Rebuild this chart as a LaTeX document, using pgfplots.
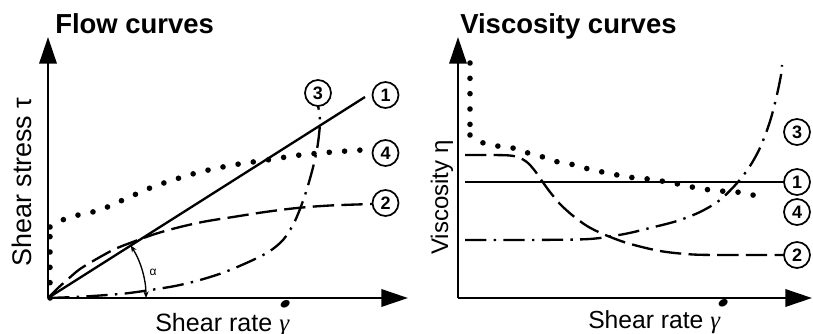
\documentclass[border=0pt]{standalone}
\usepackage{fontspec}
\setmainfont{Liberation Sans}
\newfontfamily\gfont{Liberation Serif}
\usepackage{pgfplots}
\pgfplotsset{compat=1.18}
\usetikzlibrary{arrows.meta}

% one data unit = 0.75pt in both panels, so the two axes share one frame
\pgfplotsset{
  panel/.style={
    x=0.75pt, y=0.75pt, axis lines=left, xtick=\empty, ytick=\empty,
    axis line style={line width=1.8pt, -{Triangle[length=20pt,width=13pt]}},
    clip=false, ymin=35, ymax=296, anchor=south west,
  },
}
\tikzset{
  newton/.style={black, line width=1.75pt},
  shearthin/.style={black, line width=1.75pt, dash pattern=on 16pt off 5.5pt},
  dilatant/.style={black, line width=1.75pt, dash pattern=on 16pt off 5.5pt on 1.8pt off 5.5pt},
  plastic/.style={black, line width=4.2pt, line cap=round, dash pattern=on 0pt off 11.5pt},
  num/.style={draw, circle, line width=1.3pt, minimum size=19.5pt, inner sep=0pt,
    fill=white, font=\bfseries\fontsize{13.5}{14}\selectfont},
  ttl/.style={anchor=base west, inner sep=0pt, font=\bfseries\fontsize{20.6}{24}\selectfont},
  lbl/.style={anchor=base west, inner sep=0pt},
}

\begin{document}
\begin{tikzpicture}
\useasboundingbox (0,0) rectangle (609.75pt,249.75pt);

% ---------------- flow curves ----------------
\begin{axis}[panel, at={(36pt,26.25pt)}, xmin=48, xmax=408]
  % 1: Newtonian
  \addplot[newton] coordinates {(48,35) (365,236)};
  % 2: shear thinning
  \addplot[shearthin, smooth] coordinates {
    (48,35) (58,45) (67,53) (80,64) (100,76) (115,84) (130,90) (155,99)
    (180,106) (205,111.5) (233,116) (265,121) (297,125) (330,127.5) (372,129)};
  % 3: shear thickening
  \addplot[dilatant, smooth] coordinates {
    (48,35) (75,36) (100,37.5) (125,39.5) (147,42.5) (175,47) (200,53)
    (225,61) (253,73) (270,82) (283,93) (293,108) (300,124) (306,141)
    (311,158) (315,174) (318,190) (320,210) (319,222) (318,227)};
  % 4: yield stress
  \addplot[plastic] coordinates {(50,35) (50,106)};
  \addplot[plastic, smooth] coordinates {
    (50,106) (56,110) (70,116) (83,119) (100,123) (123,133) (150,145)
    (173,153) (200,161) (233,168) (267,173) (300,178) (333,181) (362,183)};

  \draw[line width=1pt, {Stealth[length=5pt,width=4pt]}-{Stealth[length=5pt,width=4pt]}]
    (axis cs:146,35) arc[start angle=0, end angle=32.4, radius=73.5pt];
  \node[inner sep=0pt, font=\fontsize{9}{10}\selectfont] at (axis cs:153,61) {α};

  \node[num] at (axis cs:385.5,238) {1};
  \node[num] at (axis cs:385.5,130) {2};
  \node[num] at (axis cs:318,240) {3};
  \node[num] at (axis cs:385.5,180) {4};

  \node[ttl] at (axis cs:55,300) {Flow curves};
  \node[lbl, rotate=90, font=\fontsize{20.2}{22}\selectfont] at (axis cs:32,66) {Shear stress τ};
  \node[lbl, font=\fontsize{18.8}{22}\selectfont] at (axis cs:155,2) {Shear rate {\gfont\itshape γ}};
  \node[inner sep=0pt, rotate=30, xscale=1.4, font=\fontsize{18.8}{22}\selectfont] at (axis cs:287,27) {\textbullet};
\end{axis}

% ---------------- viscosity curves ----------------
\begin{axis}[panel, at={(343.5pt,26.25pt)}, xmin=458, xmax=812]
  \addplot[newton] coordinates {(465,151) (784,151)};
  \addplot[shearthin, smooth] coordinates {
    (465,178) (490,178) (510,177.5) (520,175) (528,170) (535,162) (542,152)
    (550,141) (560,129) (572,118) (587,107) (603,99) (627,90) (660,82)
    (693,78.5) (730,78) (784,78)};
  \addplot[dilatant, smooth] coordinates {
    (465,93) (520,93) (577,93.5) (600,95) (627,99.5) (650,105) (677,112)
    (700,121) (720,133) (738,151) (750,167) (759,183) (766,200) (771,215)
    (775,230) (778,243) (781,258) (782,268)};
  \addplot[plastic] coordinates {(470,270) (470,198)};
  \addplot[plastic, smooth] coordinates {
    (470,198) (476,193) (490,188) (507,186) (517,184) (528,180) (543,176)
    (558,171) (575,168) (592,163) (608,160) (627,156) (640,155) (655,153)
    (673,150) (687,147) (703,144) (720,142) (737,141) (752,138) (767,138)};

  \node[num] at (axis cs:797,151) {1};
  \node[num] at (axis cs:797,78) {2};
  \node[num] at (axis cs:797,201) {3};
  \node[num] at (axis cs:797,121) {4};

  \node[ttl] at (axis cs:460,300) {Viscosity curves};
  \node[lbl, rotate=90, font=\fontsize{18}{22}\selectfont] at (axis cs:448,78) {Viscosity η};
  \node[lbl, font=\fontsize{18.5}{22}\selectfont] at (axis cs:588,5) {Shear rate {\gfont\itshape γ}};
  \node[inner sep=0pt, rotate=30, xscale=1.4, font=\fontsize{18.8}{22}\selectfont] at (axis cs:725,28) {\textbullet};
\end{axis}
\end{tikzpicture}
\end{document}
